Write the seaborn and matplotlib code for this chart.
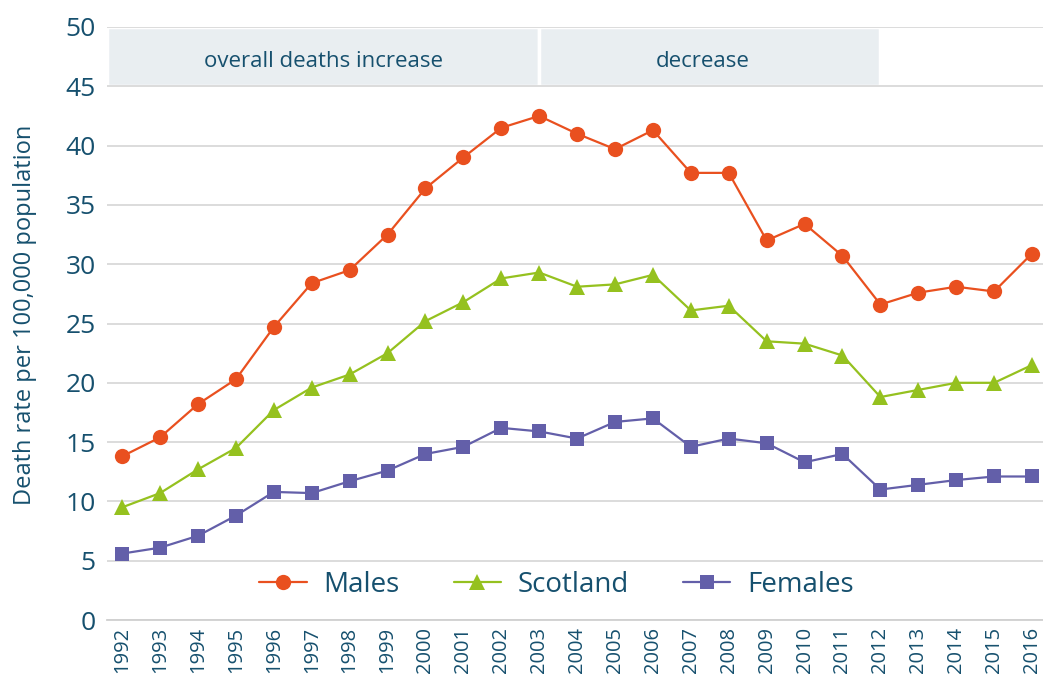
import numpy as np
import pandas as pd
import seaborn as sns
import matplotlib
matplotlib.use("Agg")
import matplotlib.pyplot as plt
from matplotlib.patches import Rectangle

years = list(range(1992, 2017))
males = [13.8, 15.4, 18.2, 20.3, 24.7, 28.4, 29.5, 32.5, 36.4, 39.0, 41.5, 42.5, 41.0,
         39.7, 41.3, 37.7, 37.7, 32.0, 33.4, 30.7, 26.6, 27.6, 28.1, 27.7, 30.9]
scotland = [9.5, 10.7, 12.7, 14.5, 17.7, 19.6, 20.7, 22.5, 25.2, 26.8, 28.8, 29.3, 28.1,
            28.3, 29.1, 26.1, 26.5, 23.5, 23.3, 22.3, 18.8, 19.4, 20.0, 20.0, 21.5]
females = [5.6, 6.1, 7.1, 8.8, 10.8, 10.7, 11.7, 12.6, 14.0, 14.6, 16.2, 15.9, 15.3,
           16.7, 17.0, 14.6, 15.3, 14.9, 13.3, 14.0, 11.0, 11.4, 11.8, 12.1, 12.1]
series_names = ["Males", "Scotland", "Females"]
phase_labels = ["overall deaths increase", "decrease"]
phase_bounds = [(None, 2003), (2003, 2012)]

TXT = "#16506e"
sns.set_style("white")
plt.rcParams["font.family"] = ["Open Sans", "DejaVu Sans"]

fig = plt.figure(figsize=(10.43, 6.77), dpi=100)
ax = fig.add_axes([107 / 1043, 57 / 677, 944 / 1043, 593 / 677])

xmin, xmax = 1991.6, 2016.5
ax.set_xlim(xmin, xmax)
ax.set_ylim(0, 50)

# phase bands
band_col = "#e9eef1"
text_x = [None, 2007.3]
for (a, b), lab, tx in zip(phase_bounds, phase_labels, text_x):
    a = xmin if a is None else a
    ax.add_patch(Rectangle((a, 45), b - a, 5, facecolor=band_col, edgecolor="white",
                           linewidth=2.5, zorder=0.5))
    cx = (a + b) / 2 if tx is None else tx
    ax.text(cx, 47.1, lab, ha="center", va="center", fontsize=16, color=TXT, zorder=3)

ax.set_yticks(range(0, 51, 5))
ax.grid(axis="y", color="#d9d9d9", linewidth=1.3, zorder=1)
ax.set_axisbelow(True)

colors = ["#e9501f", "#95c11f", "#635fa9"]
markers = ["o", "^", "s"]
msizes = [11, 11, 10]
for name, vals, c, m, ms in zip(series_names, [males, scotland, females], colors, markers, msizes):
    sns.lineplot(x=years, y=vals, ax=ax, color=c, marker=m, markersize=ms,
                 markeredgewidth=0, linewidth=1.6, label=name, zorder=4)

ax.set_xticks(years)
ax.set_xticklabels([str(y) for y in years], rotation=90, fontsize=14.5, color=TXT)
ax.set_xticks([xmin] + [y + 0.5 for y in years[:-1]], minor=True)
ax.tick_params(axis="x", which="major", length=0, pad=5)
ax.tick_params(axis="x", which="minor", length=7, width=1.2, color="#d0d0d0")
ax.tick_params(axis="y", length=0, labelsize=19, labelcolor=TXT, pad=8)

for s in ["top", "right", "left"]:
    ax.spines[s].set_visible(False)
ax.spines["bottom"].set_color("#d0d0d0")
ax.spines["bottom"].set_linewidth(1.3)

ax.set_ylabel("Death rate per 100,000 population", fontsize=17, color=TXT)
ax.yaxis.set_label_coords(-0.074, 0.514)
ax.set_xlabel("")

leg = ax.legend(loc="center", bbox_to_anchor=(0.476, 0.059), ncol=3, frameon=False,
                fontsize=20, handlelength=1.7, handletextpad=0.6, columnspacing=1.95)
for t in leg.get_texts():
    t.set_color(TXT)

fig.savefig("out.png", dpi=100)
